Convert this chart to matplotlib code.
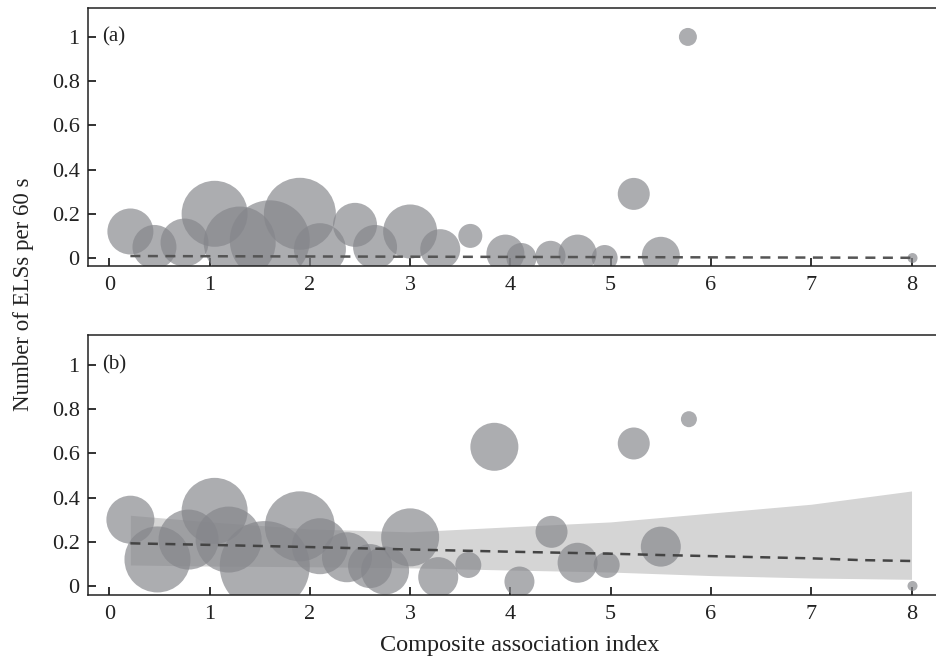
import numpy as np
import matplotlib
matplotlib.use('Agg')
import matplotlib.pyplot as plt

plt.rcParams['font.family'] = ['Liberation Serif', 'DejaVu Serif']

# panel (a): bubble positions and relative sizes
a_x = [0.21, 0.45, 0.75, 1.05, 1.30, 1.60, 1.90, 2.10, 2.45, 2.65, 3.00, 3.30, 3.60,
       3.95, 4.11, 4.40, 4.67, 4.94, 5.23, 5.50, 5.77, 8.01]
a_y = [0.12, 0.05, 0.07, 0.20, 0.07, 0.08, 0.20, 0.04, 0.15, 0.05, 0.12, 0.04, 0.10,
       0.02, 0.00, 0.01, 0.02, 0.00, 0.29, 0.01, 1.00, 0.00]
a_r = [23, 22, 24, 33, 36, 40, 36, 26, 22, 22, 27, 20, 12,
       19, 15, 15, 19, 13, 16, 19, 9, 5]
a_fit_x = [0.21, 1, 2, 3, 4, 5, 6, 7, 8]
a_fit_y = [0.009, 0.008, 0.007, 0.006, 0.005, 0.004, 0.003, 0.002, 0.001]

# panel (b)
b_x = [0.21, 0.48, 0.79, 1.05, 1.19, 1.55, 1.90, 2.10, 2.37, 2.60, 2.75, 3.00, 3.28,
       3.58, 3.84, 4.09, 4.41, 4.67, 4.96, 5.23, 5.50, 5.78, 8.01]
b_y = [0.30, 0.12, 0.21, 0.34, 0.21, 0.09, 0.27, 0.18, 0.13, 0.09, 0.07, 0.22, 0.04,
       0.095, 0.63, 0.02, 0.245, 0.105, 0.095, 0.645, 0.178, 0.755, 0.0]
b_r = [24, 33, 30, 33, 33, 45, 35, 28, 25, 22, 24, 29, 20,
       13, 24, 15, 16, 20, 13, 16, 20, 8, 5]
b_fit_x = [0.21, 1, 2, 3, 4, 5, 5.5, 6, 7, 7.5, 8]
b_fit_y = [0.193, 0.186, 0.176, 0.165, 0.155, 0.146, 0.140, 0.135, 0.125, 0.117, 0.113]
b_ci_x = [0.21, 1, 2, 3, 4, 5, 6, 7, 8]
b_ci_hi = [0.32, 0.29, 0.258, 0.245, 0.268, 0.29, 0.33, 0.37, 0.43]
b_ci_lo = [0.095, 0.09, 0.087, 0.082, 0.072, 0.063, 0.047, 0.036, 0.03]

xticks = [0, 1, 2, 3, 4, 5, 6, 7, 8]
yticks = [0, 0.2, 0.4, 0.6, 0.8, 1]
yticklabels = ['0', '0.2', '0.4', '0.6', '0.8', '1']

fig = plt.figure(figsize=(9.36, 6.59), dpi=100)
ax1 = fig.add_axes([0.094, 0.5964, 0.92, 0.3915])
ax2 = fig.add_axes([0.094, 0.0971, 0.92, 0.3945])


def px_to_s(r):
    # radius in pixels -> scatter area in points^2
    return (2 * np.array(r) * 72 / fig.dpi) ** 2


def style(ax, ylo, yhi, label):
    ax.set_xlim(-0.213, 8.375)
    ax.set_ylim(ylo, yhi)
    ax.set_xticks(xticks)
    ax.set_yticks(yticks)
    ax.set_yticklabels(yticklabels)
    ax.spines['right'].set_visible(False)
    for s in ['left', 'bottom', 'top']:
        ax.spines[s].set_linewidth(1.1)
        ax.spines[s].set_color('#222222')
    ax.tick_params(direction='in', length=6, width=1.3, labelsize=16, colors='#222222')
    ax.tick_params(axis='x', pad=7)
    ax.tick_params(axis='y', pad=6)
    ax.text(-0.075, 1.0, label, fontsize=15, va='center', ha='left', color='#222222')


ax1.scatter(a_x, a_y, s=px_to_s(a_r), color='#85868b', alpha=0.68, linewidths=0, zorder=2)
ax1.plot(a_fit_x, a_fit_y, ls='--', color='#555555', lw=1.8, dashes=(4, 3), zorder=3)
style(ax1, -0.036, 1.131, '(a)')

ax2.fill_between(b_ci_x, b_ci_lo, b_ci_hi, color='#d5d5d5', lw=0, zorder=1)
ax2.scatter(b_x, b_y, s=px_to_s(b_r), color='#85868b', alpha=0.68, linewidths=0, zorder=2)
ax2.plot(b_fit_x, b_fit_y, ls='--', color='#444444', lw=1.8, dashes=(4, 3), zorder=3)
style(ax2, -0.041, 1.136, '(b)')

fig.text(0.025, 0.554, 'Number of ELSs per 60 s', rotation=90, fontsize=16.5,
         va='center', ha='center', color='#222222')
fig.text(0.555, 0.021, 'Composite association index', fontsize=17.5,
         va='center', ha='center', color='#222222')

fig.savefig('out.png', dpi=100)
